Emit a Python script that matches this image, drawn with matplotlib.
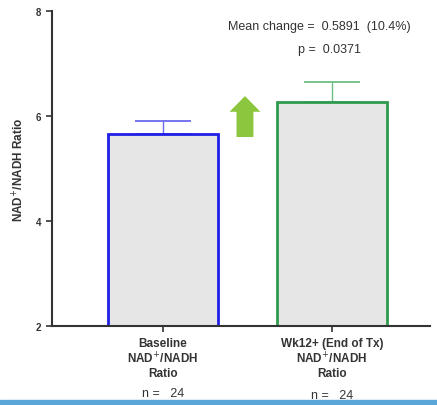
import matplotlib
matplotlib.use("Agg")
import matplotlib.pyplot as plt
from matplotlib.patches import FancyArrow, Rectangle

plt.rcParams['font.family'] = ['Liberation Sans', 'DejaVu Sans']

categories = ["Baseline\nNAD$^{+}$/NADH\nRatio", "Wk12+ (End of Tx)\nNAD$^{+}$/NADH\nRatio"]
means = [5.66, 6.27]
errors = [0.24, 0.37]
n_values = [24, 24]
edge_colors = ["#1f1fe6", "#2e9a4e"]
err_colors = ["#6a6af0", "#6cbf84"]

fig = plt.figure(figsize=(4.37, 4.06), dpi=100)
ax = fig.add_axes([52/437, 1-327/406, 378/437, 315/406])

x = [0, 1]
bars = ax.bar(x, means, width=0.65, bottom=0, color="#e6e6e6",
              edgecolor=edge_colors, linewidth=2, zorder=2)
for xi, m, e, c in zip(x, means, errors, err_colors):
    ax.errorbar([xi], [m], yerr=[[0], [e]], fmt='none', ecolor=c,
                elinewidth=1.0, capsize=20, capthick=1.3, zorder=1)

ax.set_ylim(2, 8)
ax.set_xlim(-0.657, 1.58)
ax.set_yticks([2, 4, 6, 8])
ax.set_xticks(x)
ax.set_xticklabels(categories, fontsize=8.5, fontweight='bold', color='#333333',
                   linespacing=1.12)
ax.tick_params(axis='y', labelsize=7, width=1.2, length=4, colors='#333333')
ax.tick_params(axis='x', width=1.2, length=4, colors='#333333', pad=4)
for lbl in ax.get_yticklabels():
    lbl.set_fontweight('bold')
ax.spines['top'].set_visible(False)
ax.spines['right'].set_visible(False)
ax.spines['left'].set_linewidth(1.5)
ax.spines['bottom'].set_linewidth(1.5)
ax.spines['left'].set_color('#333333')
ax.spines['bottom'].set_color('#333333')
ax.set_ylabel("NAD$^{+}$/NADH Ratio", fontsize=8.5, fontweight='bold',
              color='#333333', labelpad=7)

# green arrow
arr = FancyArrow(0.485, 5.60, 0, 0.78, width=0.10, head_width=0.183,
                 head_length=0.30, length_includes_head=True,
                 color="#8cc63f", zorder=3, linewidth=0)
ax.add_patch(arr)

ax.text(0.925, 7.71, "Mean change =  0.5891  (10.4%)", fontsize=9,
        ha='center', va='center', color='#333333')
ax.text(0.985, 7.28, "p =  0.0371", fontsize=9, ha='center', va='center',
        color='#333333')

for xi, n in zip(x, n_values):
    fig.text((163 + 169*xi)/437, 1-(394 + 2*xi)/406, f"n =   {n}", fontsize=9,
             ha='center', va='center', color='#333333')

fig.patches.append(Rectangle((0, 0), 1, 5/406, transform=fig.transFigure,
                             color="#5aa6d8", zorder=10))

fig.savefig("out.png", dpi=100)
